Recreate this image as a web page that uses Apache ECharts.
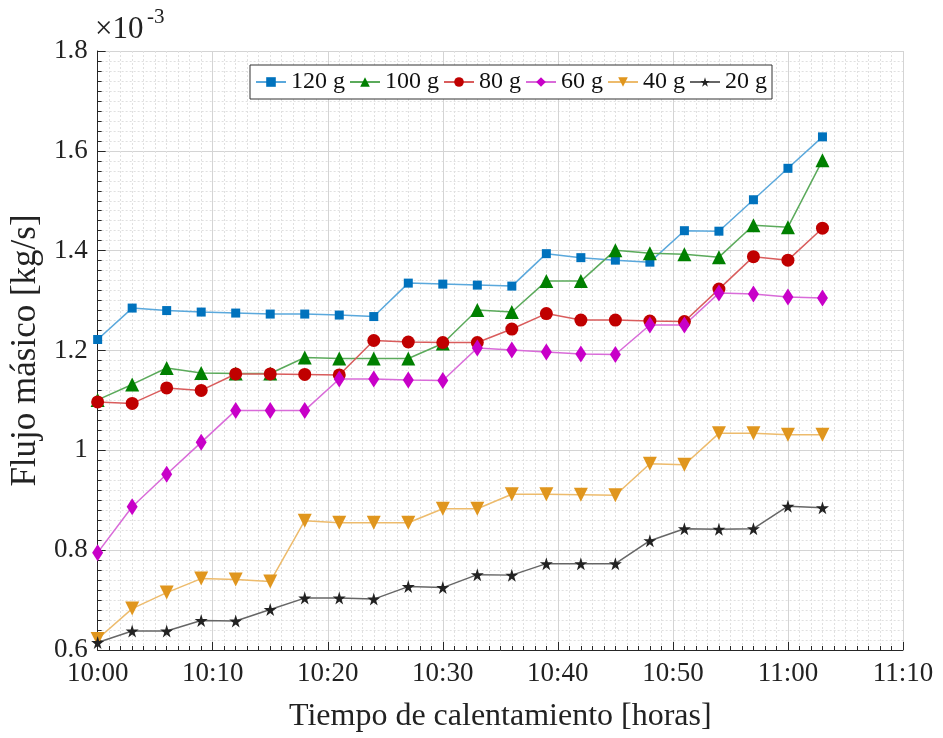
<!DOCTYPE html>
<html>
<head>
<meta charset="utf-8">
<script src="https://cdn.jsdelivr.net/npm/echarts@6/dist/echarts.min.js"></script>
<style>
  html, body { margin: 0; padding: 0; background: #fff; }
  #chart { width: 943px; height: 738px; }
</style>
</head>
<body>
<div id="chart"></div>
<script>
// minutes after 10:00
const minutes = [0, 3, 6, 9, 12, 15, 18, 21, 24, 27, 30, 33, 36, 39, 42, 45, 48, 51, 54, 57, 60, 63];
const xTickLabels = ['10:00', '10:10', '10:20', '10:30', '10:40', '10:50', '11:00', '11:10'];

// flujo masico, x 10^-3 kg/s
const g120 = [1.222, 1.285, 1.280, 1.277, 1.275, 1.273, 1.273, 1.271, 1.268, 1.335, 1.333, 1.331, 1.329, 1.394, 1.386, 1.381, 1.377, 1.440, 1.439, 1.502, 1.565, 1.628];
const g100 = [1.101, 1.132, 1.165, 1.155, 1.154, 1.154, 1.186, 1.184, 1.184, 1.184, 1.214, 1.281, 1.277, 1.339, 1.339, 1.401, 1.395, 1.393, 1.387, 1.451, 1.447, 1.581];
const g80 = [1.097, 1.094, 1.125, 1.120, 1.153, 1.153, 1.152, 1.151, 1.220, 1.217, 1.216, 1.216, 1.243, 1.274, 1.261, 1.261, 1.259, 1.258, 1.323, 1.388, 1.381, 1.445];
const g60 = [0.795, 0.887, 0.952, 1.016, 1.080, 1.080, 1.080, 1.143, 1.143, 1.141, 1.140, 1.205, 1.201, 1.197, 1.193, 1.192, 1.251, 1.251, 1.315, 1.313, 1.307, 1.305];
const g40 = [0.622, 0.683, 0.715, 0.743, 0.741, 0.737, 0.859, 0.855, 0.855, 0.855, 0.883, 0.883, 0.912, 0.912, 0.911, 0.910, 0.973, 0.971, 1.034, 1.034, 1.031, 1.031];
const g20 = [0.615, 0.638, 0.638, 0.659, 0.658, 0.681, 0.704, 0.704, 0.702, 0.727, 0.725, 0.751, 0.750, 0.773, 0.773, 0.773, 0.819, 0.843, 0.842, 0.843, 0.888, 0.885];

const FONT = '"Liberation Serif", "Times New Roman", serif';
const STAR = 'path://M50,0 L61,35 L98,35 L68,57 L79,91 L50,70 L21,91 L32,57 L2,35 L39,35 Z';

const pairs = (ys) => minutes.map((m, i) => [m, ys[i]]);

// name, data, symbol, size, marker colour, line colour, rotate
const mkSeries = (name, ys, symbol, size, color, lineColor, rotate) => ({
  name: name,
  type: 'line',
  data: pairs(ys),
  symbol: symbol,
  symbolSize: size,
  symbolRotate: rotate || 0,
  showAllSymbol: true,
  clip: false,
  itemStyle: { color: color, opacity: 1 },
  lineStyle: { color: lineColor, width: 1.5 },
  emphasis: { disabled: true }
});

const chart = echarts.init(document.getElementById('chart'), null, { renderer: 'canvas' });

chart.setOption({
  animation: false,
  backgroundColor: '#fff',
  grid: { left: 93, right: 40, top: 51, bottom: 87, containLabel: false },
  legend: {
    left: 250,
    top: 65,
    orient: 'horizontal',
    itemWidth: 30,
    itemHeight: 12,
    itemGap: 4,
    padding: [5, 5],
    borderColor: '#333',
    borderWidth: 1,
    backgroundColor: '#fff',
    textStyle: { fontFamily: FONT, fontSize: 24, color: '#111' },
    data: ['120 g', '100 g', '80 g', '60 g', '40 g', '20 g']
  },
  xAxis: {
    type: 'value',
    min: 0,
    max: 70,
    interval: 10,
    name: 'Tiempo de calentamiento [horas]',
    nameLocation: 'middle',
    nameGap: 51,
    nameTextStyle: { fontFamily: FONT, fontSize: 32, color: '#222' },
    axisLine: { show: true, onZero: false, lineStyle: { color: '#262626', width: 1 } },
    axisTick: { show: true, inside: true, length: 8, lineStyle: { color: '#262626' } },
    minorTick: { show: true, splitNumber: 10, length: 4, lineStyle: { color: '#262626' } },
    axisLabel: {
      margin: 10,
      fontFamily: FONT,
      fontSize: 27,
      color: '#222',
      formatter: (v) => xTickLabels[Math.round(v / 10)]
    },
    splitLine: { show: true, lineStyle: { color: '#d4d4d4', width: 1 } },
    minorSplitLine: { show: true, lineStyle: { color: '#e0e0e0', width: 1, type: [2, 2] } }
  },
  yAxis: {
    type: 'value',
    min: 0.6,
    max: 1.8,
    interval: 0.2,
    name: 'Flujo másico [kg/s]',
    nameLocation: 'middle',
    nameGap: 46,
    nameTextStyle: { fontFamily: FONT, fontSize: 35, color: '#222' },
    axisLine: { show: true, onZero: false, lineStyle: { color: '#262626', width: 1 } },
    axisTick: { show: true, inside: true, length: 8, lineStyle: { color: '#262626' } },
    minorTick: { show: true, splitNumber: 10, length: 4, lineStyle: { color: '#262626' } },
    axisLabel: {
      margin: 10,
      fontFamily: FONT,
      fontSize: 27,
      color: '#222',
      formatter: (v) => String(Math.round(v * 10) / 10)
    },
    splitLine: { show: true, lineStyle: { color: '#d4d4d4', width: 1 } },
    minorSplitLine: { show: true, lineStyle: { color: '#e0e0e0', width: 1, type: [2, 2] } }
  },
  graphic: [
    { type: 'text', left: 95, top: 14, style: { text: '×10', fontFamily: FONT, fontSize: 31, fill: '#222' } },
    { type: 'text', left: 147, top: 7, style: { text: '-3', fontFamily: FONT, fontSize: 21, fill: '#222' } }
  ],
  series: [
    mkSeries('120 g', g120, 'rect', 9, '#0072BD', '#5AA8DC'),
    mkSeries('100 g', g100, 'triangle', 14, '#008000', '#5BAA5B'),
    mkSeries('80 g', g80, 'circle', 13, '#C00000', '#D95C5C'),
    mkSeries('60 g', g60, 'diamond', [11, 17], '#C800C8', '#D96BD9'),
    mkSeries('40 g', g40, 'triangle', 14, '#E0961E', '#EDBB6C', 180),
    mkSeries('20 g', g20, STAR, 13, '#222222', '#666666')
  ]
});
</script>
</body>
</html>
